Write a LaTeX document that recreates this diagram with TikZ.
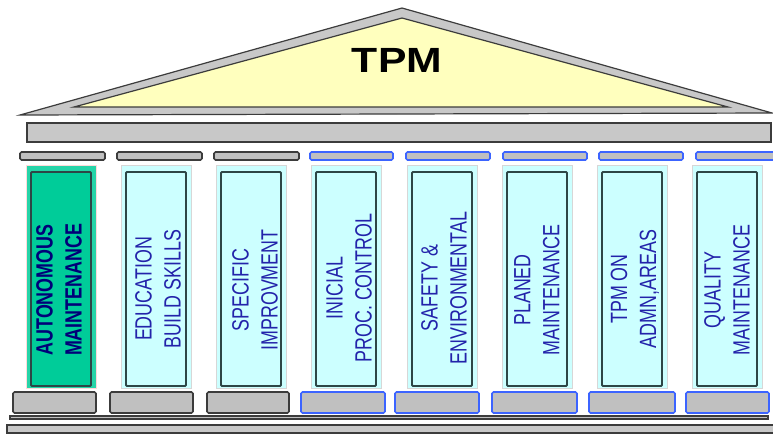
\documentclass[tikz,border=0pt]{standalone}
\usepackage{fontspec}
\setmainfont{Liberation Sans}
\newfontfamily\narrowfont[FakeStretch=0.76]{Liberation Sans}
\newfontfamily\tpmfont[FakeStretch=1.22]{Liberation Sans}
\definecolor{roofgrey}{RGB}{200,200,200}
\definecolor{roofyellow}{RGB}{255,255,190}
\definecolor{edgedark}{RGB}{60,60,60}
\definecolor{barfill}{RGB}{192,192,192}
\definecolor{barblue}{RGB}{60,100,255}
\definecolor{pillarcyan}{RGB}{204,255,255}
\definecolor{pillargreen}{RGB}{0,204,153}
\definecolor{pillaredge}{RGB}{45,70,70}
\definecolor{haloedge}{RGB}{215,215,215}
\definecolor{txtblue}{RGB}{35,35,170}
\definecolor{txtnavy}{RGB}{0,0,120}
\tikzset{
  roofline/.style={draw=edgedark, line width=1.2pt, line join=miter},
  barstyle/.style={fill=barfill, draw=edgedark, line width=1.6pt, rounded corners=1.5pt},
  bluebar/.style={fill=barfill, draw=barblue, line width=1.6pt, rounded corners=1.5pt},
  halo/.style={fill=pillarcyan, draw=haloedge, line width=0.8pt},
  pillar/.style={fill=pillarcyan, draw=pillaredge, line width=1.8pt, rounded corners=1pt},
  label/.style={rotate=90, align=center, text=txtblue, inner sep=0pt,
    font=\narrowfont\fontsize{23.5}{29}\selectfont},
}
\begin{document}
\begin{tikzpicture}[x=1pt,y=-1pt]
\useasboundingbox (0,0) rectangle (773,434);
% roof
\draw[roofline, fill=roofgrey] (20,115) -- (402,8) -- (772,113) -- cycle;
\draw[roofline, fill=roofyellow] (74,107) -- (402,18) -- (728,107) -- cycle;
\node[font=\tpmfont\bfseries\fontsize{35}{35}\selectfont, inner sep=0pt] (tpm) at (397,60) {TPM};
% beam
\draw[fill=roofgrey, draw=edgedark, line width=1.2pt] (27,123) rectangle (771,142);
% capitals
\draw[barstyle] (20,152) rectangle (105,160);
\draw[barstyle] (117,152) rectangle (202,160);
\draw[barstyle] (214,152) rectangle (299,160);
\draw[bluebar] (310,152) rectangle (393,160);
\draw[bluebar] (406,152) rectangle (490,160);
\draw[bluebar] (503,152) rectangle (587,160);
\draw[bluebar] (599,152) rectangle (683,160);
\draw[bluebar] (696,152) rectangle (780,160);
% pillar halos
\draw[halo, fill=pillargreen!85!white, draw=pink!60!white] (26,165) rectangle (96,388);
\draw[halo] (121,165) rectangle (191,388);
\draw[halo] (216,165) rectangle (286,388);
\draw[halo] (311,165) rectangle (381,388);
\draw[halo] (407,165) rectangle (477,388);
\draw[halo] (502,165) rectangle (572,388);
\draw[halo] (597,165) rectangle (667,388);
\draw[halo] (692,165) rectangle (762,388);
% pillars
\draw[pillar, fill=pillargreen] (31,172) rectangle (91,386);
\draw[pillar] (126,172) rectangle (186,386);
\draw[pillar] (221,172) rectangle (281,386);
\draw[pillar] (316,172) rectangle (376,386);
\draw[pillar] (412,172) rectangle (472,386);
\draw[pillar] (507,172) rectangle (567,386);
\draw[pillar] (602,172) rectangle (662,386);
\draw[pillar] (697,172) rectangle (757,386);
% labels
\node[label, text=txtnavy, font=\narrowfont\bfseries\fontsize{23.5}{29}\selectfont] (p1) at (59,290) {AUTONOMOUS\\MAINTENANCE};
\node[label] (p2) at (158,289) {EDUCATION\\BUILD SKILLS};
\node[label] (p3) at (255,290) {SPECIFIC\\IMPROVMENT};
\node[label] (p4) at (349,288) {INICIAL\\PROC. CONTROL};
\node[label] (p5) at (444,288) {SAFETY \&\\ENVIRONMENTAL};
\node[label] (p6) at (537,290) {PLANED\\MAINTENANCE};
\node[label] (p7) at (635,289) {TPM ON\\ADMN,AREAS};
\node[label] (p8) at (727,290) {QUALITY\\MAINTENANCE};
% bases
\draw[barstyle] (13,392) rectangle (96,413);
\draw[barstyle] (110,392) rectangle (193,413);
\draw[barstyle] (207,392) rectangle (289,413);
\draw[bluebar] (301,392) rectangle (385,413);
\draw[bluebar] (395,392) rectangle (479,413);
\draw[bluebar] (492,392) rectangle (577,413);
\draw[bluebar] (589,392) rectangle (675,413);
\draw[bluebar] (686,392) rectangle (769,413);
% floor
\draw[fill=barfill, draw=edgedark, line width=1.2pt] (10,416) rectangle (768,419);
\draw[fill=roofgrey, draw=edgedark, line width=1.2pt] (7,425) rectangle (776,433);
\end{tikzpicture}
\end{document}
